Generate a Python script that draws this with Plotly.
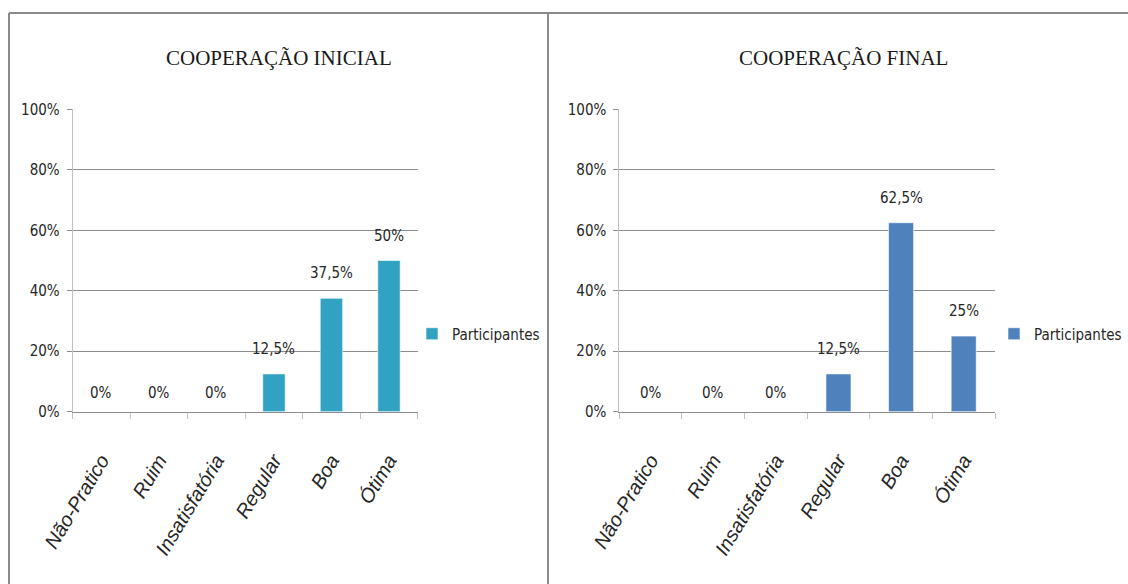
import plotly.graph_objects as go

# ---- data ----
categories = ["Não-Pratico", "Ruim", "Insatisfatória", "Regular", "Boa", "Ótima"]
inicial = [0, 0, 0, 12.5, 37.5, 50]
final = [0, 0, 0, 12.5, 62.5, 25]
titles = ["COOPERAÇÃO INICIAL", "COOPERAÇÃO FINAL"]
series_name = "Participantes"
y_ticks = [0, 20, 40, 60, 80, 100]
y_tick_labels = ["0%", "20%", "40%", "60%", "80%", "100%"]

# ---- style ----
W, H = 1128, 584
NARROW = "DejaVu Sans Condensed, Liberation Sans Narrow, Arial Narrow, sans-serif"
SANS = "Liberation Sans, Arial, sans-serif"
SERIF = "Liberation Serif, Times New Roman, serif"
TXT = "#262626"
GRID = "#8c8c8c"
LIGHT = "#c0c0c0"
COL_INI = "#31A2C1"
COL_FIN = "#4F81BD"
FS = 15


def px_x(v):
    return v / W


def px_y(v):
    return (H - v) / H


def fmt(v):
    return f"{v:g}%".replace(".", ",")


fig = go.Figure()
fig.add_trace(go.Bar(x=categories, y=inicial, name=series_name, xaxis="x", yaxis="y",
                     marker=dict(color=COL_INI, line=dict(color="rgba(255,255,255,0.6)", width=1)),
                     width=0.39, legend="legend"))
fig.add_trace(go.Bar(x=categories, y=final, name=series_name, xaxis="x2", yaxis="y2",
                     marker=dict(color=COL_FIN, line=dict(color="rgba(255,255,255,0.6)", width=1)),
                     width=0.40, legend="legend2"))

ydom = [px_y(411.7), px_y(109.3)]
common_y = dict(range=[0, 100], tickmode="array", tickvals=y_ticks, ticktext=y_tick_labels,
                showgrid=True, gridcolor=GRID,
                gridwidth=1, showline=True, linecolor=LIGHT, linewidth=1, ticks="outside", ticklen=5,
                tickcolor=GRID, zeroline=False, domain=ydom, ticklabelstandoff=4,
                tickfont=dict(family=NARROW, size=FS, color=TXT), fixedrange=True)
common_x = dict(showline=True, linecolor=GRID, linewidth=1, ticks="outside", tickson="boundaries",
                ticklen=6, tickcolor=LIGHT, tickangle=-59, ticklabelstandoff=28,
                tickfont=dict(family=SANS, size=20, color=TXT, style="italic"),
                showgrid=False, zeroline=False, fixedrange=True)

fig.update_layout(
    width=W, height=H, margin=dict(l=0, r=0, t=0, b=0, autoexpand=False),
    paper_bgcolor="white", plot_bgcolor="white",
    xaxis=dict(common_x, domain=[px_x(72.7), px_x(417.7)], anchor="y"),
    yaxis=dict(common_y, anchor="x"),
    xaxis2=dict(common_x, domain=[px_x(619.3), px_x(995)], anchor="y2"),
    yaxis2=dict(common_y, anchor="x2"),
    legend=dict(x=px_x(412), y=px_y(334), xanchor="left", yanchor="middle",
                font=dict(family=NARROW, size=FS, color=TXT), itemwidth=30, bgcolor="rgba(0,0,0,0)"),
    legend2=dict(x=px_x(994), y=px_y(334), xanchor="left", yanchor="middle",
                 font=dict(family=NARROW, size=FS, color=TXT), itemwidth=30, bgcolor="rgba(0,0,0,0)"),
    showlegend=True,
    bargap=0.6,
)

annotations = []
for xr, yr, vals in (("x", "y", inicial), ("x2", "y2", final)):
    for c, v in zip(categories, vals):
        annotations.append(dict(x=c, y=v, xref=xr, yref=yr, text=fmt(v), showarrow=False,
                                yanchor="middle", yshift=19 if v == 0 else 25,
                                font=dict(family=NARROW, size=FS, color=TXT)))
for t, cx in zip(titles, (279, 843)):
    annotations.append(dict(x=px_x(cx), y=px_y(58), xref="paper", yref="paper", text=t,
                            showarrow=False, xanchor="center", yanchor="middle",
                            font=dict(family=SERIF, size=21, color="#1a1a1a")))
fig.update_layout(annotations=annotations)

# panel frames
border = dict(color="#8a8a8a", width=2)
fig.update_layout(shapes=[
    dict(type="line", xref="paper", yref="paper", x0=px_x(9), x1=1, y0=px_y(13), y1=px_y(13), line=border),
    dict(type="line", xref="paper", yref="paper", x0=px_x(9), x1=px_x(9), y0=0, y1=px_y(13), line=border),
    dict(type="line", xref="paper", yref="paper", x0=px_x(548), x1=px_x(548), y0=0, y1=px_y(13), line=border),
])

fig.write_html("out.html", config={"displayModeBar": False})
